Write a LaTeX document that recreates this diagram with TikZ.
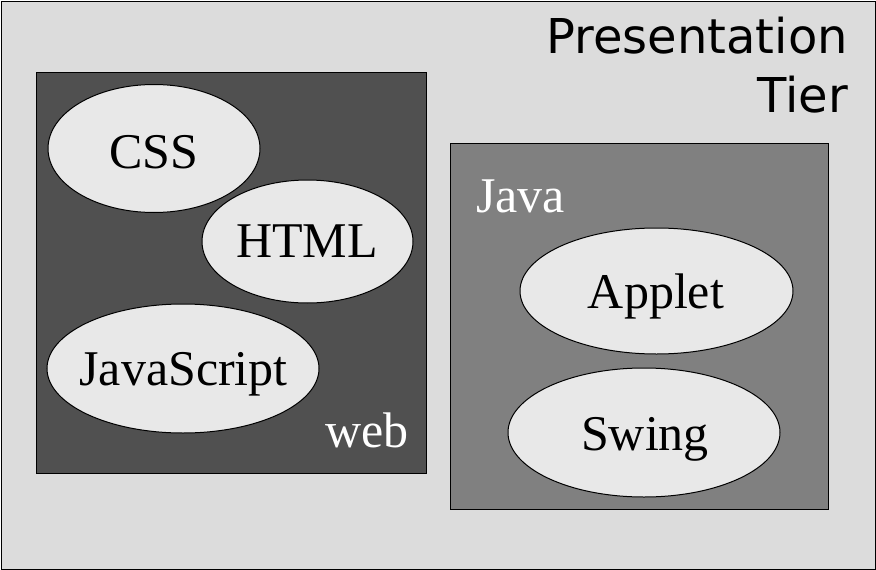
\documentclass[tikz,border=0pt]{standalone}
\usepackage{fontspec}
\setmainfont{Liberation Serif}
\newfontfamily\tierfont{DejaVu Sans}
\definecolor{outerbg}{HTML}{DCDCDC}
\definecolor{webbg}{HTML}{505050}
\definecolor{javabg}{HTML}{808080}
\definecolor{ellbg}{HTML}{E8E8E8}
\usetikzlibrary{shapes.geometric}
\tikzset{
  tierbox/.style={draw=black, line width=1.2pt, inner sep=0pt, anchor=north west},
  techshape/.style={ellipse, draw=black, line width=1pt, fill=ellbg, inner sep=0pt},
  techtext/.style={inner sep=0pt, anchor=base, font=\fontsize{50}{52}\selectfont},
  grouplabel/.style={text=white, inner sep=0pt, anchor=base west, font=\fontsize{50}{52}\selectfont},
  titletext/.style={inner sep=0pt, anchor=base east, font=\tierfont\fontsize{48}{50}\selectfont}
}
\begin{document}
\begin{tikzpicture}[x=1pt,y=-1pt]
\useasboundingbox (0,0) rectangle (876,570);
\node[tierbox, fill=outerbg, minimum width=874pt, minimum height=568pt] (outer) at (1,1) {};
\node[titletext] (t1) at (848,53) {Presentation};
\node[titletext] (t2) at (848,112) {Tier};
\node[tierbox, fill=webbg, minimum width=390pt, minimum height=401pt] (web) at (36,72) {};
\node[tierbox, fill=javabg, minimum width=378pt, minimum height=366pt] (java) at (450,143) {};
\node[techshape, minimum width=212pt, minimum height=128pt] (css) at (154,148.5) {};
\node[techtext] (csst) at (154,168) {CSS};
\node[techshape, minimum width=211pt, minimum height=123pt] (html) at (307.5,241.5) {};
\node[techtext] (htmlt) at (307,257) {HTML};
\node[techshape, minimum width=272pt, minimum height=129pt] (js) at (183,368.5) {};
\node[techtext] (jst) at (183.5,385) {JavaScript};
\node[techshape, minimum width=273pt, minimum height=126pt] (applet) at (656.5,291) {};
\node[techtext] (applett) at (656,308) {Applet};
\node[techshape, minimum width=272pt, minimum height=129pt] (swing) at (644,432.5) {};
\node[techtext] (swingt) at (645,450) {Swing};
\node[grouplabel] (weblbl) at (325,447) {web};
\node[grouplabel] (javalbl) at (476,212) {Java};
\end{tikzpicture}
\end{document}
